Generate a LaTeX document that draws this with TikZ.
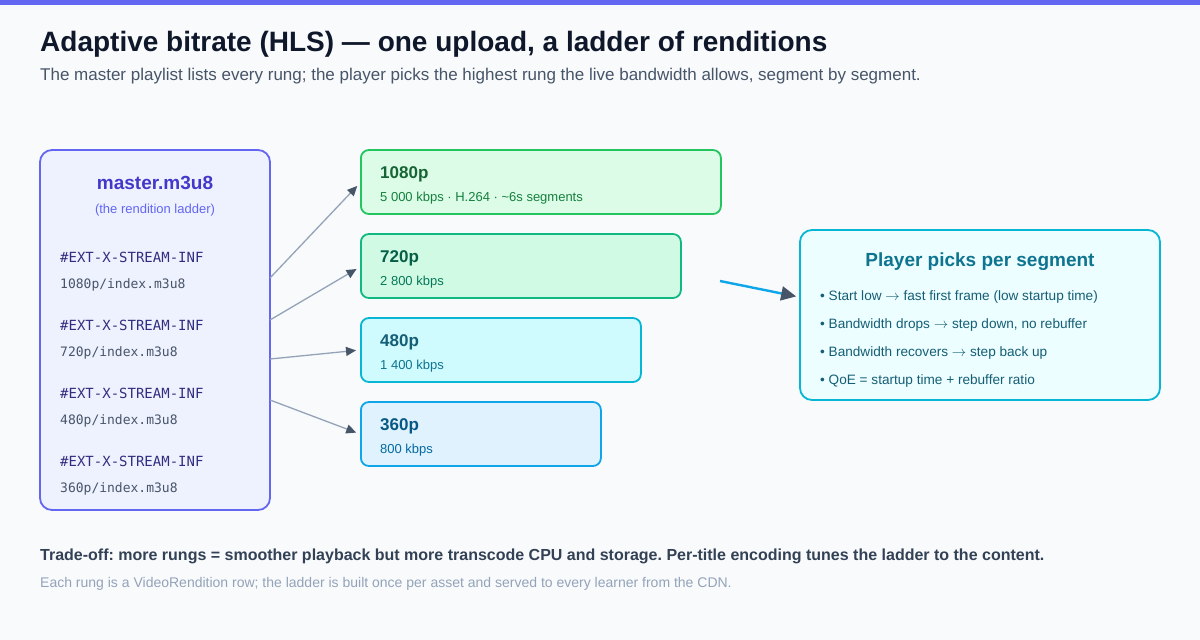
\documentclass[tikz,border=0pt]{standalone}
\usepackage{fontspec}
\setmainfont{Liberation Sans}
\setmonofont{DejaVu Sans Mono}
\usepackage{xcolor}
\usetikzlibrary{arrows.meta,positioning,calc}
\frenchspacing

\definecolor{pagebg}{HTML}{F8FAFC}
\definecolor{indigo}{HTML}{6366F1}
\definecolor{indigodk}{HTML}{4338CA}
\definecolor{indigoink}{HTML}{312E81}
\definecolor{indigobg}{HTML}{EEF2FF}
\definecolor{ink}{HTML}{0F172A}
\definecolor{slate}{HTML}{475569}
\definecolor{slatedk}{HTML}{334155}
\definecolor{slatelt}{HTML}{94A3B8}
\definecolor{tipc}{HTML}{475569}
% rung colours
\definecolor{hdline}{HTML}{22C55E}\definecolor{hdfill}{HTML}{DCFCE7}
\definecolor{hdname}{HTML}{166534}\definecolor{hdrate}{HTML}{15803D}
\definecolor{mdline}{HTML}{10B981}\definecolor{mdfill}{HTML}{D1FAE5}
\definecolor{mdname}{HTML}{065F46}\definecolor{mdrate}{HTML}{047857}
\definecolor{sdline}{HTML}{06B6D4}\definecolor{sdfill}{HTML}{CFFAFE}
\definecolor{sdname}{HTML}{155E75}\definecolor{sdrate}{HTML}{0E7490}
\definecolor{ldline}{HTML}{0EA5E9}\definecolor{ldfill}{HTML}{E0F2FE}
\definecolor{ldname}{HTML}{075985}\definecolor{ldrate}{HTML}{0369A1}
% player colours
\definecolor{plline}{HTML}{06B6D4}\definecolor{plfill}{HTML}{ECFEFF}
\definecolor{pltitle}{HTML}{0E7490}\definecolor{pltext}{HTML}{155E75}
\definecolor{plarrow}{HTML}{0EA5E9}

\newcommand{\goesto}{$\rightarrow$}

\begin{document}
\begin{tikzpicture}[x=1pt,y=-1pt,
    rung/.style={draw,line width=1.8pt,rounded corners=8pt,minimum height=64pt,anchor=west},
    rungname/.style={anchor=west,inner sep=0pt,font=\fontsize{17}{20}\selectfont\bfseries},
    rungrate/.style={anchor=west,inner sep=0pt,font=\fontsize{13}{15}\selectfont},
    tagline/.style={anchor=west,inner sep=0pt,text=indigoink,font=\ttfamily\fontsize{14}{16}\selectfont},
    uriline/.style={anchor=west,inner sep=0pt,text=slate,font=\ttfamily\fontsize{13}{15}\selectfont},
    bullet/.style={anchor=west,inner sep=0pt,text=pltext,font=\fontsize{13.6}{16}\selectfont},
    link/.style={draw=slatelt,line width=1.3pt,shorten >=4pt,-{Triangle[length=10pt,width=9pt,color=tipc]}}]

  \fill[pagebg] (0,0) rectangle (1200,640);
  \fill[indigo] (0,0) rectangle (1200,5);

  \node[anchor=base west,inner sep=0pt,text=ink,font=\fontsize{28}{32}\selectfont\bfseries] (title) at (40,51)
       {Adaptive bitrate (HLS) — one upload, a ladder of renditions};
  \node[anchor=base west,inner sep=0pt,text=slate,font=\fontsize{17}{20}\selectfont] (subtitle) at (40,80)
       {The master playlist lists every rung; the player picks the highest rung the live bandwidth allows, segment by segment.};

  % master playlist
  \node[draw=indigo,fill=indigobg,line width=1.8pt,rounded corners=12pt,
        minimum width=230pt,minimum height=360pt] (master) at (155,330) {};
  \node[text=indigodk,font=\fontsize{19}{22}\selectfont\bfseries] (mname) at (155,183) {master.m3u8};
  \node[text=indigo,font=\fontsize{13}{15}\selectfont] (mnote) at (155,210) {(the rendition ladder)};
  \node[tagline] (t1) at (60,257) {\#EXT-X-STREAM-INF};
  \node[uriline] (u1) at (60,285) {1080p/index.m3u8};
  \node[tagline] (t2) at (60,325) {\#EXT-X-STREAM-INF};
  \node[uriline] (u2) at (60,353) {720p/index.m3u8};
  \node[tagline] (t3) at (60,393) {\#EXT-X-STREAM-INF};
  \node[uriline] (u3) at (60,421) {480p/index.m3u8};
  \node[tagline] (t4) at (60,461) {\#EXT-X-STREAM-INF};
  \node[uriline] (u4) at (60,489) {360p/index.m3u8};

  % the ladder
  \node[rung,draw=hdline,fill=hdfill,minimum width=360pt] (r1080) at (360,182) {};
  \node[rung,draw=mdline,fill=mdfill,minimum width=320pt] (r720) at (360,266) {};
  \node[rung,draw=sdline,fill=sdfill,minimum width=280pt] (r480) at (360,350) {};
  \node[rung,draw=ldline,fill=ldfill,minimum width=240pt] (r360) at (360,434) {};

  \node[rungname,text=hdname] at ($(r1080.west)+(20,-8)$) {1080p};
  \node[rungrate,text=hdrate] at ($(r1080.west)+(20,16)$) {5 000 kbps · H.264 · \textasciitilde6s segments};
  \node[rungname,text=mdname] at ($(r720.west)+(20,-8)$) {720p};
  \node[rungrate,text=mdrate] at ($(r720.west)+(20,16)$) {2 800 kbps};
  \node[rungname,text=sdname] at ($(r480.west)+(20,-8)$) {480p};
  \node[rungrate,text=sdrate] at ($(r480.west)+(20,16)$) {1 400 kbps};
  \node[rungname,text=ldname] at ($(r360.west)+(20,-8)$) {360p};
  \node[rungrate,text=ldrate] at ($(r360.west)+(20,16)$) {800 kbps};

  \coordinate (m1) at (270,278);
  \coordinate (m2) at (270,320);
  \coordinate (m3) at (270,359);
  \coordinate (m4) at (270,400);
  \draw[link] (m1) -- ([yshift=-1pt]r1080.west);
  \draw[link] (m2) -- ([yshift=-1pt]r720.west);
  \draw[link] (m3) -- (r480.west);
  \draw[link] (m4) -- (r360.west);

  % player
  \node[draw=plline,fill=plfill,line width=1.8pt,rounded corners=12pt,
        minimum width=360pt,minimum height=170pt] (player) at (980,315) {};
  \node[text=pltitle,font=\fontsize{19}{22}\selectfont\bfseries] (ptitle) at (980,262) {Player picks per segment};
  \node[bullet] (b1) at (820,297) {• Start low \goesto{} fast first frame (low startup time)};
  \node[bullet] (b2) at (820,325) {• Bandwidth drops \goesto{} step down, no rebuffer};
  \node[bullet] (b3) at (820,353) {• Bandwidth recovers \goesto{} step back up};
  \node[bullet] (b4) at (820,381) {• QoE = startup time + rebuffer ratio};

  \coordinate (p0) at (720,281);
  \draw[draw=plarrow,line width=2.4pt,shorten >=3pt,-{Triangle[length=15pt,width=14pt,color=tipc]}]
       (p0) -- ([yshift=18pt]player.west);

  % footer
  \node[anchor=base west,inner sep=0pt,text=slatedk,font=\fontsize{16}{19}\selectfont\bfseries] (tradeoff) at (40,560)
       {Trade-off: more rungs = smoother playback but more transcode CPU and storage. Per-title encoding tunes the ladder to the content.};
  \node[anchor=base west,inner sep=0pt,text=slatelt,font=\fontsize{14}{16}\selectfont] (footnote) at (40,587)
       {Each rung is a VideoRendition row; the ladder is built once per asset and served to every learner from the CDN.};
\end{tikzpicture}
\end{document}
